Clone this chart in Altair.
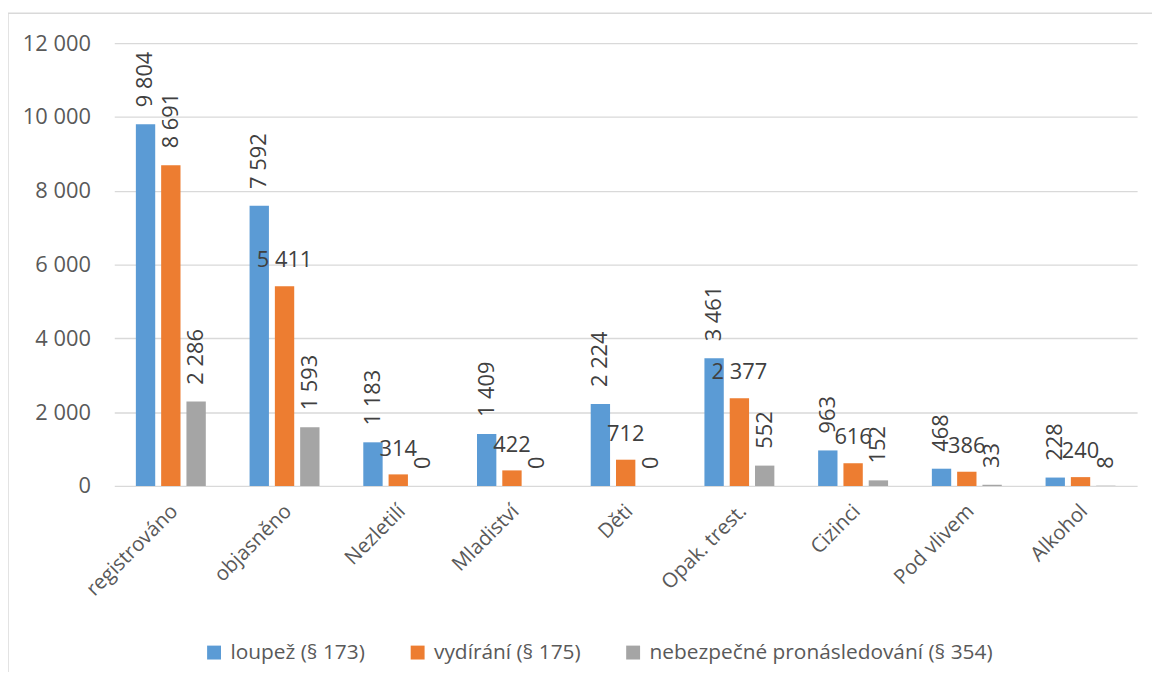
import altair as alt
import pandas as pd

categories = ["registrováno", "objasněno", "Nezletilí", "Mladiství", "Děti",
              "Opak. trest.", "Cizinci", "Pod vlivem", "Alkohol"]
series = ["loupež (§ 173)", "vydírání (§ 175)", "nebezpečné pronásledování (§ 354)"]
loupez = [9804, 7592, 1183, 1409, 2224, 3461, 963, 468, 228]
vydirani = [8691, 5411, 314, 422, 712, 2377, 616, 386, 240]
pronasledovani = [2286, 1593, 0, 0, 0, 552, 152, 33, 8]
colors = ["#5b9bd5", "#ed7d31", "#a5a5a5"]
y_ticks = [0, 2000, 4000, 6000, 8000, 10000, 12000]

FONT = "Open Sans"
rows = []
for si, (s, vals) in enumerate(zip(series, [loupez, vydirani, pronasledovani])):
    for ci, (c, v) in enumerate(zip(categories, vals)):
        rows.append({
            "category": c,
            "series": s,
            "value": v,
            "label": f"{v:,}".replace(",", " "),
            "horizontal": (si == 1 and ci > 0),
        })
df = pd.DataFrame(rows)

base = alt.Chart(df).encode(
    x=alt.X("category:N", sort=categories,
            scale=alt.Scale(paddingInner=0.385, paddingOuter=0.19),
            axis=alt.Axis(title=None, labelAngle=315, labelAlign="right",
                          labelBaseline="middle", labelPadding=22, labelOffset=4,
                          domain=False, ticks=False, grid=False,
                          labelFont=FONT, labelFontSize=20.5, labelColor="#595959")),
    xOffset=alt.XOffset("series:N", sort=series,
                        scale=alt.Scale(paddingInner=0.235, paddingOuter=0)),
    y=alt.Y("value:Q", scale=alt.Scale(domain=[0, 12000]),
            axis=alt.Axis(title=None, values=y_ticks,
                          labelExpr="replace(format(datum.value, ','), ',', ' ')",
                          domain=False, ticks=False, grid=True,
                          gridColor="#d9d9d9", gridWidth=1.3,
                          labelFont=FONT, labelFontSize=22, labelColor="#595959",
                          labelPadding=24)),
)

bars = base.mark_bar().encode(
    color=alt.Color("series:N", sort=series,
                    scale=alt.Scale(domain=series, range=colors),
                    legend=alt.Legend(orient="none", legendX=90, legendY=603,
                                      direction="horizontal", title=None,
                                      symbolType="square", symbolSize=196,
                                      symbolStrokeWidth=0,
                                      labelFont=FONT, labelFontSize=21,
                                      labelColor="#595959", columnPadding=42,
                                      labelOffset=6, labelLimit=600))
)

text_rot = base.transform_filter("!datum.horizontal").mark_text(
    angle=270, align="left", baseline="middle", dx=17,
    font=FONT, fontSize=22, color="#404040"
).encode(text="label:N")

text_hor = base.transform_filter("datum.horizontal").mark_text(
    align="center", baseline="alphabetic", dy=-19,
    font=FONT, fontSize=22, color="#404040"
).encode(text="label:N")

frame = pd.DataFrame({"a": [0]})
border_left = alt.Chart(frame).mark_rule(color="#d9d9d9", strokeWidth=1.5).encode(
    x=alt.value(-107), y=alt.value(-30), y2=alt.value(700))
border_top = alt.Chart(frame).mark_rule(color="#d9d9d9", strokeWidth=1.5).encode(
    x=alt.value(-107), x2=alt.value(1100), y=alt.value(-30))

chart = alt.layer(border_left, border_top, bars, text_rot, text_hor).properties(
    width=1030, height=446,
    autosize=alt.AutoSizeParams(type="none"),
    padding={"left": 107, "top": 33, "right": 15, "bottom": 185},
    background="white",
).configure_view(stroke=None)

chart.save("out.html", embed_options={"renderer": "svg", "actions": False})
